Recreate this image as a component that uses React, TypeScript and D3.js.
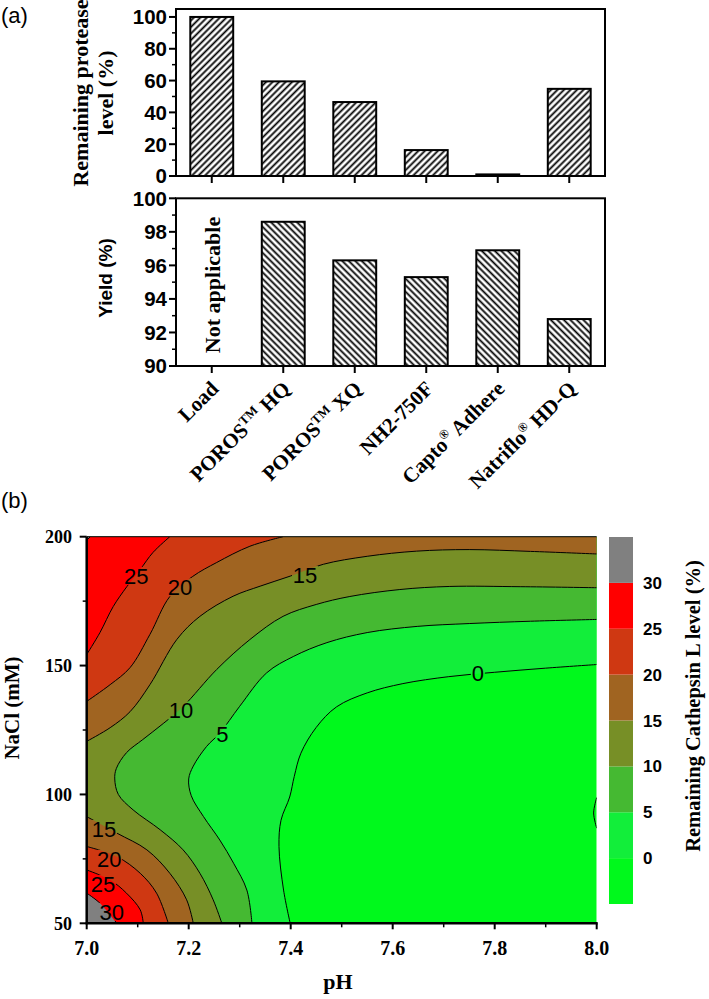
import React from "react";
import * as d3 from "d3";

// ---------- Panel (a) data ----------
const categories = ["Load", "POROS™ HQ", "POROS™ XQ", "NH2-750F", "Capto® Adhere", "Natriflo® HD-Q"];
const proteaseLevel = [100, 59.5, 46.5, 16.3, 1, 54.8];
const yieldValues: (number | null)[] = [null, 98.6, 96.3, 95.3, 96.9, 92.8];
const proteaseTicks = [0, 20, 40, 60, 80, 100];
const proteaseMinor = [10, 30, 50, 70, 90];
const yieldTicks = [90, 92, 94, 96, 98, 100];
const yieldMinor = [91, 93, 95, 97, 99];

// ---------- Panel (b) data ----------
const pHTicks = [7.0, 7.2, 7.4, 7.6, 7.8, 8.0];
const pHMinor = [7.1, 7.3, 7.5, 7.7, 7.9];
const naclTicks = [50, 100, 150, 200];
const naclMinor = [75, 125, 175];
const colorbarLevels = [-5, 0, 5, 10, 15, 20, 25, 30, 35];
const colorbarTickValues = [0, 5, 10, 15, 20, 25, 30];
const bandColors = ["#00F91C", "#12EE3A", "#45B932", "#778F26", "#A06421", "#CF3812", "#FF0000", "#808080"];

type P = [number, number];
const contour0: P[] = [[7.399, 50], [7.386, 62.9], [7.377, 79.8], [7.381, 90], [7.398, 99], [7.407, 107], [7.42, 116], [7.45, 126], [7.49, 134], [7.55, 139.4], [7.62, 143], [7.71, 145.7], [7.8, 147.4], [7.9, 149], [8.0, 150.4]];
const contour5: P[] = [[7.324, 50], [7.314, 62.9], [7.288, 73.3], [7.261, 82.3], [7.229, 91.4], [7.205, 99.5], [7.2, 106], [7.209, 111], [7.235, 118.6], [7.261, 123.8], [7.3, 134.2], [7.353, 147.2], [7.405, 153.5], [7.471, 158.9], [7.55, 162.8], [7.648, 165.2], [7.75, 166.3], [7.87, 167.2], [8.0, 167.9]];
const contour10: P[] = [[7.265, 50], [7.248, 59.1], [7.222, 69.4], [7.189, 78.5], [7.144, 86.3], [7.091, 94], [7.062, 100], [7.055, 106], [7.058, 110], [7.078, 116.2], [7.11, 121.3], [7.15, 127.5], [7.189, 134.1], [7.255, 148.5], [7.32, 160.1], [7.385, 169.1], [7.45, 173.7], [7.516, 176.8], [7.614, 179.5], [7.712, 180.7], [7.85, 180.6], [8.0, 180.2]];
const contour15Top: P[] = [[7.0, 120.6], [7.046, 125.9], [7.085, 132.1], [7.124, 142.6], [7.177, 160.2], [7.222, 169.1], [7.287, 176.9], [7.34, 180.8], [7.399, 184.7], [7.464, 189.3], [7.55, 192.4], [7.647, 194.4], [7.75, 195], [7.87, 194.3], [8.0, 193.3]];
const contour15Bottom: P[] = [[7.0, 91.4], [7.059, 85], [7.118, 78.5], [7.163, 69.4], [7.196, 59.1], [7.209, 50]];
const contour20Top: P[] = [[7.0, 136.1], [7.046, 142.6], [7.085, 149.2], [7.124, 162.1], [7.163, 176.8], [7.208, 184.6], [7.255, 190], [7.32, 196.3], [7.385, 200]];
const contour20Bottom: P[] = [[7.0, 79.8], [7.059, 75.9], [7.105, 69.4], [7.137, 61.7], [7.16, 50]];
const contour25Top: P[] = [[7.0, 154.3], [7.026, 162.8], [7.052, 172.9], [7.079, 180.7], [7.105, 187.3], [7.13, 193.9], [7.163, 200]];
const contour25Bottom: P[] = [[7.0, 70.7], [7.046, 66.8], [7.078, 61.7], [7.105, 55.2], [7.111, 50]];
const contour30Bottom: P[] = [[7.0, 61.7], [7.026, 57.8], [7.059, 50]];
const contour30Top: P[] = [[7.0, 198.6], [7.007, 200]];
const contourMinus5: P[] = [[8.0, 86.9], [7.994, 92.8], [8.0, 98.8]];

// closure: which plot corners close each "value >= level" region
const contourRegions = [
  { level: 0, line: contour0, close: "rightTopLeft" },
  { level: 5, line: contour5, close: "rightTopLeft" },
  { level: 10, line: contour10, close: "rightTopLeft" },
  { level: 15, line: contour15Top, close: "rightTop" },
  { level: 15, line: contour15Bottom, close: "bottomLeft" },
  { level: 20, line: contour20Top, close: "top" },
  { level: 20, line: contour20Bottom, close: "bottomLeft" },
  { level: 25, line: contour25Top, close: "top" },
  { level: 25, line: contour25Bottom, close: "bottomLeft" },
  { level: 30, line: contour30Bottom, close: "bottomLeft" },
  { level: 30, line: contour30Top, close: "top" },
];

const contourLabels = [
  { text: "25", pH: 7.097, nacl: 184.8 },
  { text: "20", pH: 7.183, nacl: 180.4 },
  { text: "15", pH: 7.428, nacl: 185.3 },
  { text: "10", pH: 7.185, nacl: 132.6 },
  { text: "5", pH: 7.266, nacl: 123.6 },
  { text: "0", pH: 7.767, nacl: 146.9 },
  { text: "15", pH: 7.034, nacl: 86.6 },
  { text: "20", pH: 7.044, nacl: 75 },
  { text: "25", pH: 7.032, nacl: 65.3 },
  { text: "30", pH: 7.049, nacl: 54.4 },
];

const SERIF = "'Liberation Serif', 'Times New Roman', serif";
const SANS = "'Liberation Sans', Arial, sans-serif";

function CatLabel({ text, x, y }: { text: string; x: number; y: number }) {
  const parts: { t: string; sup: boolean }[] = [];
  let buf = "";
  for (const ch of text) {
    if (ch === "™" || ch === "®") {
      if (buf) parts.push({ t: buf, sup: false });
      buf = "";
      parts.push({ t: ch === "™" ? "TM" : "®", sup: true });
    } else buf += ch;
  }
  if (buf) parts.push({ t: buf, sup: false });
  let shifted = false;
  return (
    <text x={x} y={y} transform={`rotate(-45 ${x} ${y})`} textAnchor="end" fontFamily={SERIF} fontWeight="bold" fontSize={21}>
      {parts.map((p, i) => {
        let dy = 0;
        if (p.sup && !shifted) { dy = -8; shifted = true; }
        else if (!p.sup && shifted) { dy = 8; shifted = false; }
        return (
          <tspan key={i} dy={dy} fontSize={p.sup ? 13 : 21}>{p.t}</tspan>
        );
      })}
    </text>
  );
}

export default function App() {
  // ---- scales panel (a)
  const xCat = d3.scaleBand<string>().domain(categories).range([176, 605]).paddingInner(0.4).paddingOuter(0.2);
  const yTop = d3.scaleLinear().domain([0, 105]).range([176, 9]);
  const yBot = d3.scaleLinear().domain([90, 100]).range([366, 198.3]);
  const bw = xCat.bandwidth();

  // ---- scales panel (b)
  const xPH = d3.scaleLinear().domain([7, 8]).range([86.7, 596.7]);
  const yNa = d3.scaleLinear().domain([50, 200]).range([923.3, 536.7]);
  const yCb = d3.scaleLinear().domain([-5, 35]).range([904, 537]);

  const line = d3.line<P>().x((d) => xPH(d[0])).y((d) => yNa(d[1])).curve(d3.curveCatmullRom.alpha(0.5));
  const [pMin, pMax] = xPH.domain();
  const [nMin, nMax] = yNa.domain();
  const corners: Record<string, P[]> = {
    rightTopLeft: [[pMax, nMax], [pMin, nMax], [pMin, nMin]],
    rightTop: [[pMax, nMax], [pMin, nMax]],
    top: [[pMin, nMax]],
    bottomLeft: [[pMin, nMin]],
  };
  const regionPath = (pts: P[], close: string) =>
    (line(pts) || "") + corners[close].map((c) => `L${xPH(c[0])},${yNa(c[1])}`).join("") + "Z";
  const colorFor = (level: number) => bandColors[colorbarLevels.indexOf(level)];

  const allLines = [contour0, contour5, contour10, contour15Top, contour15Bottom, contour20Top, contour20Bottom, contour25Top, contour25Bottom, contour30Bottom, contour30Top, contourMinus5];

  return (
    <svg width={709} height={999} style={{ position: "absolute", left: 0, top: 0 }}>
      <defs>
        <pattern id="hatchUp" patternUnits="userSpaceOnUse" width={4.6} height={4.6} patternTransform="rotate(45)">
          <rect width={4.6} height={4.6} fill="white" />
          <line x1={2.3} y1={0} x2={2.3} y2={4.6} stroke="black" strokeWidth={1.8} />
        </pattern>
        <pattern id="hatchDown" patternUnits="userSpaceOnUse" width={4.6} height={4.6} patternTransform="rotate(-45)">
          <rect width={4.6} height={4.6} fill="white" />
          <line x1={2.3} y1={0} x2={2.3} y2={4.6} stroke="black" strokeWidth={1.8} />
        </pattern>
        <clipPath id="plotClip">
          <rect x={xPH(7)} y={yNa(200)} width={xPH(8) - xPH(7)} height={yNa(50) - yNa(200)} />
        </clipPath>
        <mask id="labelMask" maskUnits="userSpaceOnUse" x={0} y={0} width={709} height={999}>
          <rect x={0} y={0} width={709} height={999} fill="white" />
          {contourLabels.map((l, i) => {
            const w = l.text.length * 12 + 2;
            return <rect key={i} x={xPH(l.pH) - w / 2} y={yNa(l.nacl) - 9} width={w} height={18} fill="black" />;
          })}
        </mask>
      </defs>
      <rect width={709} height={999} fill="white" />

      {/* ================= Panel (a) ================= */}
      <text x={1} y={23} fontFamily={SANS} fontSize={22}>(a)</text>

      {/* top bars */}
      {categories.map((c, i) => (
        <rect key={c} x={xCat(c)} y={yTop(proteaseLevel[i])} width={bw} height={yTop(0) - yTop(proteaseLevel[i])}
          fill="url(#hatchUp)" stroke="black" strokeWidth={2} />
      ))}
      <rect x={176} y={9} width={429} height={167} fill="none" stroke="black" strokeWidth={2} />
      {proteaseTicks.map((t) => (
        <g key={t}>
          <line x1={169} x2={176} y1={yTop(t)} y2={yTop(t)} stroke="black" strokeWidth={2} />
          <text x={167} y={yTop(t)} dy="0.36em" textAnchor="end" fontFamily={SANS} fontWeight="bold" fontSize={20.5}>{t}</text>
        </g>
      ))}
      {proteaseMinor.map((t) => (
        <line key={t} x1={172} x2={176} y1={yTop(t)} y2={yTop(t)} stroke="black" strokeWidth={1.5} />
      ))}
      {categories.map((c) => (
        <line key={c} x1={xCat(c)! + bw / 2} x2={xCat(c)! + bw / 2} y1={176} y2={183} stroke="black" strokeWidth={2} />
      ))}
      <text transform="translate(88,93) rotate(-90)" textAnchor="middle" fontFamily={SERIF} fontWeight="bold" fontSize={22}>Remaining protease</text>
      <text transform="translate(113,93) rotate(-90)" textAnchor="middle" fontFamily={SERIF} fontWeight="bold" fontSize={22}>level (%)</text>

      {/* bottom bars */}
      {categories.map((c, i) => {
        const v = yieldValues[i];
        if (v === null) return null;
        return (
          <rect key={c} x={xCat(c)} y={yBot(v)} width={bw} height={yBot(90) - yBot(v)}
            fill="url(#hatchDown)" stroke="black" strokeWidth={2} />
        );
      })}
      <rect x={176} y={198.3} width={429} height={167.7} fill="none" stroke="black" strokeWidth={2} />
      {yieldTicks.map((t) => (
        <g key={t}>
          <line x1={169} x2={176} y1={yBot(t)} y2={yBot(t)} stroke="black" strokeWidth={2} />
          <text x={167} y={yBot(t)} dy="0.36em" textAnchor="end" fontFamily={SANS} fontWeight="bold" fontSize={20.5}>{t}</text>
        </g>
      ))}
      {yieldMinor.map((t) => (
        <line key={t} x1={172} x2={176} y1={yBot(t)} y2={yBot(t)} stroke="black" strokeWidth={1.5} />
      ))}
      {categories.map((c) => (
        <line key={c} x1={xCat(c)! + bw / 2} x2={xCat(c)! + bw / 2} y1={366} y2={373} stroke="black" strokeWidth={2} />
      ))}
      <text transform={`translate(${xCat(categories[0])! + bw / 2 + 8},285) rotate(-90)`} textAnchor="middle" fontFamily={SERIF} fontWeight="bold" fontSize={22}>Not applicable</text>
      <text transform="translate(112,278) rotate(-90)" textAnchor="middle" fontFamily={SANS} fontWeight="bold" fontSize={19}>Yield (%)</text>
      {categories.map((c) => (
        <CatLabel key={c} text={c} x={xCat(c)! + bw / 2 + 8} y={390} />
      ))}

      {/* ================= Panel (b) ================= */}
      <text x={1} y={508} fontFamily={SANS} fontSize={22}>(b)</text>

      <g clipPath="url(#plotClip)">
        <rect x={xPH(7)} y={yNa(200)} width={xPH(8) - xPH(7)} height={yNa(50) - yNa(200)} fill={bandColors[0]} />
        {contourRegions.map((r, i) => (
          <path key={i} d={regionPath(r.line, r.close)} fill={colorFor(r.level)} />
        ))}
        <g mask="url(#labelMask)">
          {allLines.map((l, i) => (
            <path key={i} d={line(l) || ""} fill="none" stroke="black" strokeWidth={1} />
          ))}
        </g>
      </g>
      {contourLabels.map((l, i) => (
        <text key={i} x={xPH(l.pH)} y={yNa(l.nacl)} dy="0.36em" textAnchor="middle" fontFamily={SANS} fontSize={22}>{l.text}</text>
      ))}

      {/* axes */}
      <line x1={xPH(7)} x2={xPH(8)} y1={yNa(200)} y2={yNa(200)} stroke="black" strokeWidth={1} />
      <line x1={xPH(7)} x2={xPH(7)} y1={yNa(200)} y2={yNa(50) + 1} stroke="black" strokeWidth={2.5} />
      <line x1={xPH(7) - 1} x2={xPH(8) + 1} y1={yNa(50)} y2={yNa(50)} stroke="black" strokeWidth={2.5} />
      {pHTicks.map((t) => (
        <g key={t}>
          <line x1={xPH(t)} x2={xPH(t)} y1={yNa(50)} y2={yNa(50) + 6} stroke="black" strokeWidth={2} />
          <text x={xPH(t)} y={955} textAnchor="middle" fontFamily={SERIF} fontWeight="bold" fontSize={20}>{t.toFixed(1)}</text>
        </g>
      ))}
      {pHMinor.map((t) => (
        <line key={t} x1={xPH(t)} x2={xPH(t)} y1={yNa(50)} y2={yNa(50) + 4} stroke="black" strokeWidth={1.5} />
      ))}
      {naclTicks.map((t) => (
        <g key={t}>
          <line x1={xPH(7) - 7} x2={xPH(7)} y1={yNa(t)} y2={yNa(t)} stroke="black" strokeWidth={2} />
          <text x={72} y={yNa(t)} dy="0.35em" textAnchor="end" fontFamily={SERIF} fontWeight="bold" fontSize={18}>{t}</text>
        </g>
      ))}
      {naclMinor.map((t) => (
        <line key={t} x1={xPH(7) - 4} x2={xPH(7)} y1={yNa(t)} y2={yNa(t)} stroke="black" strokeWidth={1.5} />
      ))}
      <text x={338} y={989} textAnchor="middle" fontFamily={SERIF} fontWeight="bold" fontSize={22}>pH</text>
      <text transform="translate(19,708) rotate(-90)" textAnchor="middle" fontFamily={SERIF} fontWeight="bold" fontSize={21}>NaCl (mM)</text>

      {/* colorbar */}
      {bandColors.map((c, i) => (
        <rect key={i} x={609} y={yCb(colorbarLevels[i + 1])} width={24} height={yCb(colorbarLevels[i]) - yCb(colorbarLevels[i + 1])} fill={c} />
      ))}
      {colorbarTickValues.map((t) => (
        <text key={t} x={643} y={yCb(t)} dy="0.36em" fontFamily={SANS} fontWeight="bold" fontSize={17}>{t}</text>
      ))}
      <text transform="translate(700,706) rotate(-90)" textAnchor="middle" fontFamily={SERIF} fontWeight="bold" fontSize={20.5}>Remaining Cathepsin L level (%)</text>
    </svg>
  );
}
